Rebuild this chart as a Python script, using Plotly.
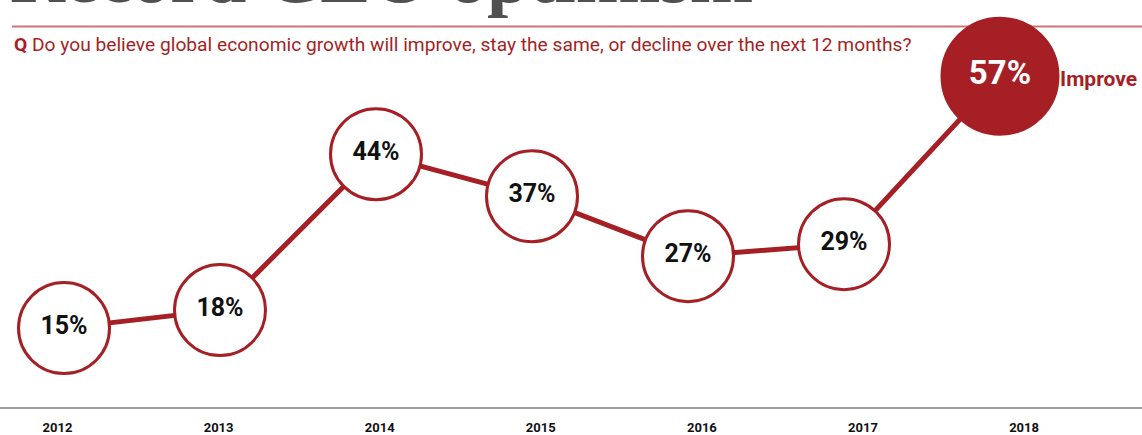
import plotly.graph_objects as go

# ---- data ----
years = [2012, 2013, 2014, 2015, 2016, 2017, 2018]
improve_pct = [15, 18, 44, 37, 27, 29, 57]
tick_labels = [str(y) for y in years]
title_text = "Record CEO optimism"
question_text = "Do you believe global economic growth will improve, stay the same, or decline over the next 12 months?"
series_name = "Improve"

RED = "#a51f25"
W, H = 1142, 435
MB = 22
PH = H - MB  # plot height in px

def py(px):
    """pixel from top -> paper y"""
    return 1 - px / PH

n = len(years)
sizes = [91] * (n - 1) + [116]
fills = ["white"] * (n - 1) + [RED]
outline = [RED] * n
txt_col = ["#111111"] * (n - 1) + ["white"]
txt_size = [25] * (n - 1) + [33]
labels = [f"{v}%" for v in improve_pct]

fig = go.Figure()
# invisible trace anchoring the tick axis (x / y)
fig.add_trace(go.Scatter(
    x=years, y=improve_pct, xaxis="x", yaxis="y", mode="markers",
    marker=dict(size=1, opacity=0), hoverinfo="skip", showlegend=False,
))
fig.add_trace(go.Scatter(
    x=years, y=improve_pct, xaxis="x2", yaxis="y",
    mode="lines+markers+text",
    line=dict(color=RED, width=5),
    marker=dict(size=sizes, color=fills, line=dict(color=outline, width=3), opacity=1),
    text=labels, textposition="middle center",
    textfont=dict(family="Roboto, Liberation Sans, Arial, sans-serif", size=txt_size, color=txt_col, weight="bold"),
    cliponaxis=False, hoverinfo="skip", showlegend=False,
))

fig.update_layout(
    width=W, height=H,
    margin=dict(l=0, r=0, t=0, b=MB),
    paper_bgcolor="white", plot_bgcolor="white",
    showlegend=False,
    xaxis=dict(
        range=[2011.643, 2018.732],
        tickmode="array", tickvals=years, ticktext=tick_labels,
        tickfont=dict(family="Roboto, Liberation Sans, Arial", size=13, color="#111", weight="bold"),
        showgrid=False, zeroline=False,
        showline=True, linecolor="#a0a0a0", linewidth=2,
        ticks="", ticklabelstandoff=7,
        fixedrange=True,
    ),
    xaxis2=dict(
        range=[2011.5897, 2018.9103],
        overlaying="x", anchor="y", visible=False,
    ),
    yaxis=dict(
        range=[1.85, 69.7],
        visible=False, showgrid=False, zeroline=False,
    ),
    shapes=[dict(
        type="line", xref="paper", yref="paper",
        x0=12 / W, x1=1, y0=py(27), y1=py(27),
        line=dict(color="#d07478", width=2), layer="below",
    )],
    annotations=[
        dict(text=f"<b>{title_text}</b>", xref="paper", yref="paper",
             x=8 / W, y=py(20.5), xanchor="left", yanchor="bottom", showarrow=False,
             font=dict(family="Liberation Serif, Times New Roman, serif", size=76, color="#505050")),
        dict(text=f"<b>Q</b> {question_text}", xref="paper", yref="paper",
             x=12 / W, y=py(45), xanchor="left", yanchor="middle", showarrow=False,
             font=dict(family="Roboto, Arial, sans-serif", size=19.2, color=RED)),
        dict(text=f"<b>{series_name}</b>", xref="x2", yref="y",
             x=years[-1], y=improve_pct[-1], xshift=58, yshift=-3, xanchor="left", yanchor="middle",
             showarrow=False,
             font=dict(family="Roboto, Arial, sans-serif", size=21, color=RED)),
    ],
)

fig.write_html("out.html")
